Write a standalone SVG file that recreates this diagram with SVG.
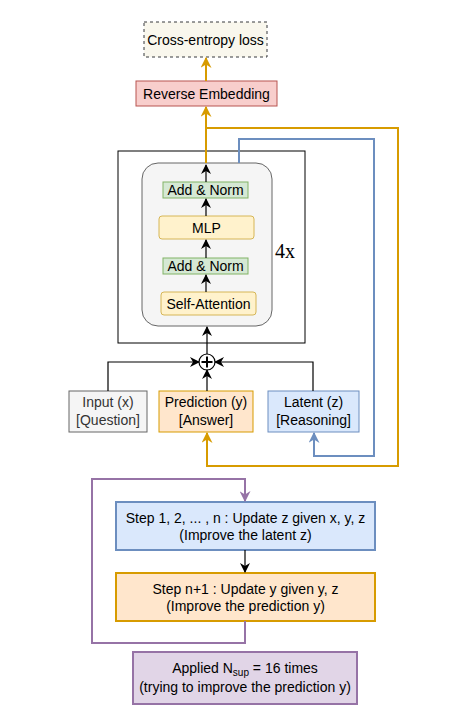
<svg xmlns="http://www.w3.org/2000/svg" width="462" height="714" viewBox="0 0 462 714">
<defs>
<style>
text{font-family:"Liberation Sans",Arial,sans-serif;font-size:14px;fill:#000;text-anchor:middle}
.blk{stroke:#000;stroke-width:1.2;fill:none}
.org{stroke:#d79b00;stroke-width:2;fill:none}
.blu{stroke:#6c8ebf;stroke-width:2;fill:none}
.pur{stroke:#9673a6;stroke-width:2;fill:none}
.green{fill:#d5e8d4;stroke:#82b366}
.yel{fill:#fff2cc;stroke:#d6b656}
</style>
<marker id="ab" viewBox="0 0 10 10" refX="9" refY="5" markerWidth="10" markerHeight="10" orient="auto" markerUnits="userSpaceOnUse"><path d="M0,0 L10,5 L0,10 L3,5 Z" fill="#000"/></marker>
<marker id="ao" viewBox="0 0 10 10" refX="9" refY="5" markerWidth="11" markerHeight="11" orient="auto" markerUnits="userSpaceOnUse"><path d="M0,0 L10,5 L0,10 L3,5 Z" fill="#d79b00"/></marker>
<marker id="au" viewBox="0 0 10 10" refX="9" refY="5" markerWidth="11" markerHeight="11" orient="auto" markerUnits="userSpaceOnUse"><path d="M0,0 L10,5 L0,10 L3,5 Z" fill="#6c8ebf"/></marker>
<marker id="ap" viewBox="0 0 10 10" refX="9" refY="5" markerWidth="11" markerHeight="11" orient="auto" markerUnits="userSpaceOnUse"><path d="M0,0 L10,5 L0,10 L3,5 Z" fill="#9673a6"/></marker>
</defs>

<g id="loss"><rect x="144" y="22" width="123" height="35" fill="#f9f7ed" stroke="#36393d" stroke-dasharray="3 3"/><text x="205.5" y="44.5">Cross-entropy loss</text></g>
<g id="revemb"><rect x="136" y="81" width="141" height="25" fill="#f8cecc" stroke="#b85450"/><text x="206.5" y="98.5">Reverse Embedding</text></g>

<g id="block"><rect x="118" y="151" width="187" height="192" fill="#fff" stroke="#000"/><text x="285" y="258" style="font-family:'Liberation Serif',serif;font-size:20px">4x</text></g>
<g id="inner"><rect x="142" y="163" width="130" height="163" rx="16" fill="#f5f5f5" stroke="#666"/></g>
<g id="addnorm2"><rect class="green" x="163" y="182" width="85" height="16"/><text x="205.5" y="195">Add &amp; Norm</text></g>
<g id="mlp"><rect class="yel" x="159" y="216" width="95" height="23" rx="3"/><text x="206.5" y="232.5">MLP</text></g>
<g id="addnorm1"><rect class="green" x="163" y="258" width="85" height="16"/><text x="205.5" y="271">Add &amp; Norm</text></g>
<g id="selfattn"><rect class="yel" x="161" y="292" width="95" height="23" rx="3"/><text x="208.5" y="308.5">Self-Attention</text></g>

<g id="plus"><circle cx="207" cy="362" r="8" fill="#fff" stroke="#000" stroke-width="1.2"/><path d="M201.5,362 H212.5 M207,356.5 V367.5" stroke="#000" stroke-width="2"/></g>

<g id="input"><rect x="69" y="391" width="78" height="41" fill="#f5f5f5" stroke="#666"/><text x="108" y="407" style="fill:#333">Input (x)</text><text x="108" y="425" style="fill:#333">[Question]</text></g>
<g id="pred"><rect x="159" y="391" width="94" height="41" fill="#ffe6cc" stroke="#d79b00"/><text x="206" y="407">Prediction (y)</text><text x="206" y="425">[Answer]</text></g>
<g id="latent"><rect x="268" y="391" width="91" height="41" fill="#dae8fc" stroke="#6c8ebf"/><text x="313.5" y="407">Latent (z)</text><text x="313.5" y="425">[Reasoning]</text></g>

<g id="step1"><rect x="116" y="502" width="259" height="48" fill="#dae8fc" stroke="#6c8ebf" stroke-width="2"/><text x="245.5" y="523">Step 1, 2, ... , n : Update z given x, y, z</text><text x="245.5" y="540">(Improve the latent z)</text></g>
<g id="step2"><rect x="116" y="573" width="259" height="48" fill="#ffe6cc" stroke="#d79b00" stroke-width="2"/><text x="245.5" y="594">Step n+1 : Update y given y, z</text><text x="245.5" y="611">(Improve the prediction y)</text></g>
<g id="applied"><rect x="133" y="652" width="224" height="52" fill="#e1d5e7" stroke="#9673a6" stroke-width="2"/><text x="245" y="673">Applied N<tspan dy="3" font-size="10">sup</tspan><tspan dy="-3"> = 16 times</tspan></text><text x="245" y="692">(trying to improve the prediction y)</text></g>

<g id="connectors">
<path class="org" d="M206,163 V107" marker-end="url(#ao)"/>
<path class="org" d="M206,81 V58" marker-end="url(#ao)"/>
<path class="org" d="M206,128 H398 V466 H207 V433" marker-end="url(#ao)"/>
<path class="blu" d="M239,163 V139 H374 V456 H314 V433" marker-end="url(#au)"/>
<path class="blk" d="M206,182 V165" marker-end="url(#ab)"/>
<path class="blk" d="M206,216 V199" marker-end="url(#ab)"/>
<path class="blk" d="M206,258 V240" marker-end="url(#ab)"/>
<path class="blk" d="M206,292 V275" marker-end="url(#ab)"/>
<path class="blk" d="M207,354 V327" marker-end="url(#ab)"/>
<path class="blk" d="M108,391 V362 H199" marker-end="url(#ab)"/>
<path class="blk" d="M313,391 V362 H215" marker-end="url(#ab)"/>
<path class="blk" d="M207,391 V370" marker-end="url(#ab)"/>
<path class="blk" d="M245,550 V572" marker-end="url(#ab)"/>
<path class="pur" d="M245,621 V643 H92 V479 H245 V501" marker-end="url(#ap)"/>
</g>
</svg>
